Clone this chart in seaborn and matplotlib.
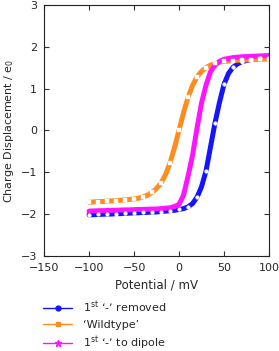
import matplotlib
matplotlib.use("Agg")
import matplotlib.pyplot as plt
from matplotlib.lines import Line2D
import pandas as pd
import seaborn as sns

# potential steps (mV) shared by all three series
potential = list(range(-100, 105, 5))

removed = [-2.02, -2.015, -2.01, -2.005, -2.00, -2.00, -1.99, -1.99, -1.98, -1.98,
           -1.97, -1.97, -1.96, -1.96, -1.95, -1.95, -1.94, -1.93, -1.92, -1.91,
           -1.89, -1.87, -1.83, -1.75, -1.60, -1.35, -0.97, -0.40, 0.18, 0.67,
           1.10, 1.36, 1.51, 1.59, 1.64, 1.67, 1.69, 1.71, 1.72, 1.73, 1.74]

wildtype = [-1.72, -1.71, -1.70, -1.70, -1.69, -1.685, -1.68, -1.67, -1.66, -1.65,
            -1.64, -1.62, -1.59, -1.55, -1.48, -1.39, -1.26, -1.06, -0.78, -0.41,
            0.0, 0.42, 0.79, 1.07, 1.28, 1.41, 1.50, 1.56, 1.60, 1.63,
            1.65, 1.66, 1.67, 1.675, 1.68, 1.685, 1.69, 1.695, 1.70, 1.705, 1.71]

dipole = [-1.93, -1.925, -1.92, -1.92, -1.915, -1.91, -1.91, -1.905, -1.90, -1.90,
          -1.895, -1.89, -1.89, -1.885, -1.88, -1.88, -1.87, -1.86, -1.85, -1.82,
          -1.77, -1.55, -1.10, -0.60, 0.05, 0.65, 1.08, 1.40, 1.56, 1.65,
          1.70, 1.72, 1.74, 1.75, 1.76, 1.765, 1.77, 1.775, 1.78, 1.785, 1.79]

labels = ["1$^{\\rm st}$ \u2018-\u2019 removed", "\u2018Wildtype\u2019",
          "1$^{\\rm st}$ \u2018-\u2019 to dipole"]
colors = ["#1414ff", "#ff8c1e", "#ff14ff"]
markers = ["o", "s", "*"]

x_ticks = [-150, -100, -50, 0, 50, 100]
y_ticks = [-3, -2, -1, 0, 1, 2, 3]

df = pd.DataFrame({
    "Potential": potential * 3,
    "Charge": removed + wildtype + dipole,
    "series": [labels[0]] * len(potential) + [labels[1]] * len(potential) + [labels[2]] * len(potential),
})

sns.set_style("ticks")
plt.rcParams["font.family"] = ["DejaVu Sans"]
plt.rcParams["font.size"] = 8
plt.rcParams["mathtext.fontset"] = "dejavusans"

fig = plt.figure(figsize=(2.79, 3.51), dpi=100)
ax = fig.add_axes([0.158, 0.271, 0.806, 0.715])

sns.lineplot(data=df, x="Potential", y="Charge", hue="series", hue_order=labels,
             palette=colors, linewidth=3.6, legend=False, ax=ax, sort=False)

# open white markers every 10 mV on the first two series
for vals, m in [(removed, "o"), (wildtype, "s")]:
    ax.plot(potential[::2], vals[::2], linestyle="none", marker=m, markersize=2.6,
            markerfacecolor="white", markeredgecolor="white", markeredgewidth=0.3)

ax.set_xlim(-150, 100)
ax.set_ylim(-3, 3)
ax.set_xticks(x_ticks)
ax.set_yticks(y_ticks)
ax.tick_params(direction="in", top=True, right=True, length=3.5, width=0.8,
               labelsize=8, color="#333333")
ax.tick_params(axis="x", pad=5)
ax.tick_params(axis="y", pad=5)
for s in ax.spines.values():
    s.set_linewidth(0.8)
    s.set_color("#222222")
ax.set_xlabel("Potential / mV", fontsize=8.5, labelpad=4)
ax.set_ylabel("Charge Displacement / e$_0$", fontsize=8, labelpad=3)

handles = [Line2D([], [], color=c, marker=m, markersize=3.5 if m != "*" else 4.5, linewidth=1.0)
           for c, m in zip(colors, markers)]
fig.legend(handles, labels, loc="upper left", bbox_to_anchor=(0.155, 0.148),
           frameon=False, fontsize=8, handlelength=2.6, handletextpad=1.0,
           labelspacing=0.45, borderpad=0, borderaxespad=0)

fig.savefig("out.png", dpi=100)
plt.close(fig)
